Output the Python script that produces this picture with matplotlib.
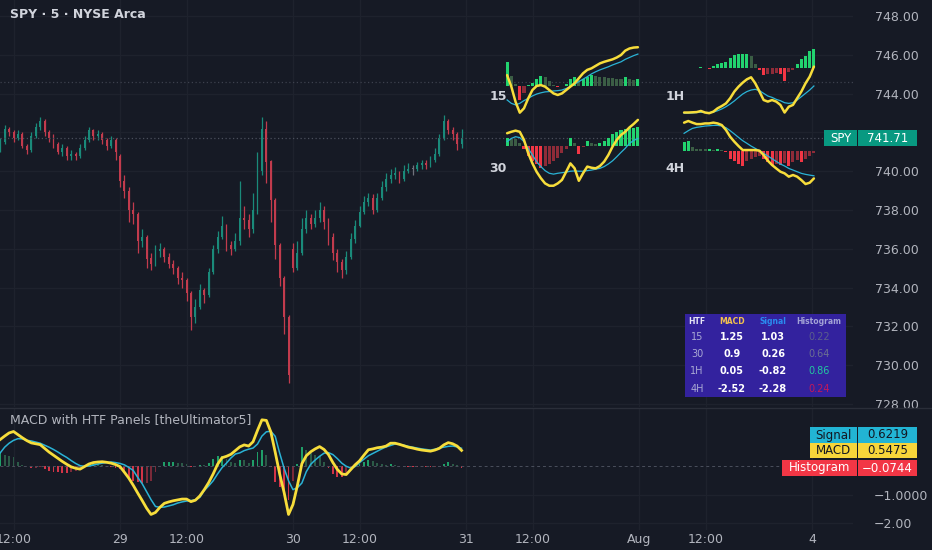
import numpy as np
import matplotlib.pyplot as plt
from matplotlib.patches import Rectangle
from matplotlib.lines import Line2D

plt.rcParams['font.family'] = ['DejaVu Sans']

W, H = 932, 550
BG = '#161a25'
GRID = '#1e222d'
TXT = '#b2b5be'
YELLOW = '#f7dd3b'
CYAN = '#2ab3d6'

# 10-minute candles, Jul 28 12:00 -> Jul 30 close
closes = [741.5, 742.2, 742.0, 741.7, 741.9, 741.3, 741.1, 741.8, 742.3, 742.6,
          742.0, 741.7, 741.4, 741.0, 741.2, 740.8, 740.9, 740.8, 741.2, 741.6,
          742.1, 741.8, 741.9, 741.6, 741.3, 741.6, 741.0,
          739.5, 739.0, 738.0, 737.8, 736.4, 736.6, 735.5, 735.2, 735.9, 736.0,
          735.6, 735.2, 735.0, 734.5, 734.4, 733.7, 732.5, 733.0, 733.9, 733.6,
          734.8, 736.0, 736.6, 737.2, 736.2, 736.0, 736.4, 737.6, 737.5, 737.0,
          738.0, 740.0, 742.2, 740.5, 738.5, 736.2, 734.5, 732.5, 729.5,
          735.0, 735.8, 737.0, 737.6, 737.3, 737.6, 738.0, 737.4, 736.6, 735.8,
          735.3, 734.9, 735.6, 736.5, 737.2, 737.9, 738.4, 738.6, 738.0, 738.6,
          739.2, 739.6, 739.8, 739.9, 739.6, 740.0, 740.1, 740.1, 740.3, 740.4,
          740.3, 740.6, 740.9, 741.7, 742.6, 742.1, 741.9, 741.4, 741.71]
highs = [741.7, 742.4, 742.3, 742.1, 742.1, 742.0, 741.4, 742.0, 742.5, 742.8,
         742.7, 742.1, 741.9, 741.5, 741.4, 741.3, 741.1, 741.0, 741.4, 741.8,
         742.3, 742.2, 742.1, 742.0, 741.7, 741.8, 741.7,
         740.9, 739.8, 739.2, 738.4, 737.9, 737.0, 736.7, 735.8, 736.2, 736.3,
         736.1, 735.8, 735.4, 735.1, 734.8, 734.5, 733.8, 733.4, 734.2, 734.0,
         735.0, 736.2, 736.9, 737.7, 737.3, 736.4, 736.8, 739.5, 738.2, 737.8,
         738.9, 741.0, 742.8, 742.6, 740.6, 738.6, 736.3, 734.6, 732.6,
         736.3, 736.4, 737.6, 738.0, 737.8, 738.0, 738.4, 738.2, 737.6, 736.8,
         736.0, 735.5, 735.9, 736.8, 737.5, 738.2, 738.7, 738.9, 738.8, 738.9,
         739.5, 739.9, 740.1, 740.2, 740.0, 740.3, 740.4, 740.3, 740.5, 740.6,
         740.6, 740.8, 741.2, 741.9, 742.9, 742.7, 742.3, 742.0, 742.2]
lows = [741.0, 741.4, 741.8, 741.5, 741.6, 741.2, 740.9, 741.0, 741.7, 742.1,
        741.8, 741.5, 741.2, 740.9, 740.8, 740.6, 740.6, 740.6, 740.7, 741.1,
        741.5, 741.6, 741.6, 741.4, 741.1, 741.2, 740.6,
        739.2, 738.6, 737.4, 737.3, 735.8, 736.1, 735.0, 734.9, 735.1, 735.6,
        735.3, 735.0, 734.7, 734.2, 734.0, 733.3, 731.8, 732.2, 732.9, 733.2,
        733.5, 734.7, 735.8, 736.5, 735.9, 735.7, 735.9, 736.2, 737.0, 736.6,
        736.8, 737.8, 739.8, 739.4, 737.4, 735.5, 734.1, 731.6, 729.1,
        734.8, 734.9, 735.7, 736.8, 737.0, 737.1, 737.4, 737.0, 736.2, 735.4,
        734.8, 734.5, 734.7, 735.5, 736.3, 737.1, 737.8, 738.2, 737.8, 737.9,
        738.5, 739.0, 739.4, 739.6, 739.4, 739.5, 739.9, 739.8, 740.0, 740.1,
        740.1, 740.2, 740.5, 740.8, 741.6, 741.9, 741.6, 741.1, 741.2]
first_open = 741.2
session_opens = {27: 740.8, 66: 736.0}
last_price = 741.71
ref_level = 744.6

macd = [0.93, 1.05, 1.16, 1.21, 1.10, 0.99, 0.89, 0.81, 0.78, 0.75,
        0.62, 0.49, 0.38, 0.27, 0.16, 0.06, -0.03, -0.08, -0.11, -0.02,
        0.07, 0.12, 0.14, 0.15, 0.13, 0.10, 0.05,
        -0.02, -0.22, -0.43, -0.68, -0.95, -1.21, -1.48, -1.70, -1.63, -1.45,
        -1.31, -1.26, -1.22, -1.19, -1.16, -1.16, -1.25, -1.20, -1.05, -0.83,
        -0.58, -0.28, 0.06, 0.29, 0.34, 0.41, 0.54, 0.67, 0.74, 0.70,
        0.85, 1.25, 1.62, 1.60, 1.20, 0.48, -0.28, -0.93, -1.70,
        -1.35, -0.68, 0.08, 0.36, 0.50, 0.60, 0.68, 0.58, 0.40, 0.12,
        -0.12, -0.28, -0.30, -0.13, 0.04, 0.18, 0.38, 0.57, 0.60, 0.64,
        0.66, 0.70, 0.80, 0.80, 0.76, 0.71, 0.66, 0.63, 0.59, 0.56,
        0.54, 0.52, 0.56, 0.62, 0.74, 0.82, 0.78, 0.70, 0.5475]
signal = [0.46, 0.66, 0.80, 0.90, 0.96, 0.95, 0.90, 0.88, 0.84, 0.80,
          0.73, 0.66, 0.58, 0.49, 0.39, 0.30, 0.19, 0.09, 0.01, -0.01,
          0.0, 0.03, 0.07, 0.10, 0.12, 0.14, 0.12,
          0.09, 0.04, -0.05, -0.16, -0.40, -0.62, -0.90, -1.18, -1.42, -1.45,
          -1.44, -1.40, -1.36, -1.30, -1.26, -1.23, -1.21, -1.19, -1.10, -0.86,
          -0.70, -0.52, -0.28, -0.06, 0.10, 0.28, 0.42, 0.46, 0.54, 0.59,
          0.63, 0.77, 1.05, 1.20, 1.22, 1.04, 0.45, -0.08, -0.52,
          -0.83, -0.76, -0.60, -0.20, 0.06, 0.21, 0.34, 0.45, 0.47, 0.40,
          0.26, 0.10, -0.01, -0.07, -0.02, 0.12, 0.24, 0.36, 0.44, 0.52,
          0.60, 0.67, 0.72, 0.77, 0.76, 0.73, 0.69, 0.66, 0.63, 0.60,
          0.58, 0.56, 0.59, 0.63, 0.66, 0.69, 0.70, 0.67, 0.6219]

# x axis (in candle units)
tick_pos = [3, 27, 42, 66, 81, 105, 120, 144, 159, 183]
tick_lbl = ['12:00', '29', '12:00', '30', '12:00', '31', '12:00', 'Aug', '12:00', '4']
price_ticks = [748, 746, 744, 742, 740, 738, 736, 734, 732, 730, 728]

# higher-timeframe panels
p15_hist = [0.78, 0.32, 0.05, -0.45, -0.24, 0.03, 0.09, 0.22, 0.32, 0.30, 0.16, 0.03,
            -0.04, 0.01, 0.05, 0.22, 0.30, 0.19, 0.24, 0.30, 0.34, 0.32, 0.30, 0.29,
            0.27, 0.26, 0.24, 0.22, 0.28, 0.22, 0.19, 0.22]
p15_macd = [0.35, -0.02, -0.51, -0.86, -0.72, -0.40, -0.13, 0.0, 0.03, -0.02, -0.13, -0.24,
            -0.29, -0.24, -0.13, -0.02, 0.09, 0.25, 0.41, 0.52, 0.57, 0.65, 0.73, 0.78,
            0.82, 0.86, 0.92, 1.0, 1.14, 1.21, 1.24, 1.25]
p15_signal = [-0.45, -0.56, -0.61, -0.56, -0.47, -0.40, -0.32, -0.26, -0.22, -0.19, -0.18, -0.16,
              -0.15, -0.13, -0.08, -0.02, 0.06, 0.14, 0.22, 0.30, 0.39, 0.46, 0.52, 0.57,
              0.62, 0.68, 0.73, 0.78, 0.86, 0.92, 0.98, 1.03]

p1h_hist = [-0.03, -0.01, -0.01, 0.0, 0.04, 0.0, -0.07, 0.07, 0.18, 0.22, 0.27, 0.45,
            0.57, 0.63, 0.63, 0.63, 0.52, 0.15, -0.12, -0.33, -0.30, -0.27, -0.22, -0.30,
            -0.60, -0.18, -0.12, 0.18, 0.37, 0.52, 0.75, 0.86]
p1h_macd = [-2.01, -2.01, -2.0, -1.99, -1.94, -2.01, -2.04, -1.97, -1.82, -1.72, -1.60, -1.37,
            -1.07, -0.85, -0.67, -0.52, -0.43, -0.70, -1.07, -1.45, -1.52, -1.45, -1.52, -1.67,
            -2.01, -1.75, -1.67, -1.37, -1.07, -0.70, -0.40, 0.05]
p1h_signal = [-2.04, -2.04, -2.03, -2.01, -2.0, -2.01, -2.01, -1.99, -1.93, -1.85, -1.75, -1.63,
              -1.49, -1.33, -1.18, -1.07, -1.0, -0.97, -1.03, -1.15, -1.27, -1.33, -1.42, -1.48,
              -1.57, -1.60, -1.57, -1.45, -1.30, -1.15, -1.0, -0.82]

p30_hist = [0.29, 0.25, 0.23, 0.11, -0.11, -0.34, -0.52, -0.63, -0.75, -0.69, -0.63, -0.52,
            -0.40, -0.23, -0.09, 0.29, 0.09, -0.29, -0.03, 0.17, 0.11, 0.06, 0.09, 0.17,
            0.29, 0.40, 0.48, 0.55, 0.60, 0.63, 0.63, 0.64]
p30_macd = [0.44, 0.49, 0.53, 0.49, 0.21, -0.25, -0.60, -0.89, -1.11, -1.29, -1.37, -1.37,
            -1.29, -1.17, -0.89, -0.60, -0.77, -1.20, -0.94, -0.71, -0.75, -0.77, -0.69, -0.54,
            -0.31, -0.02, 0.21, 0.38, 0.49, 0.64, 0.76, 0.90]
p30_signal = [0.15, 0.26, 0.32, 0.29, 0.15, -0.08, -0.31, -0.54, -0.71, -0.85, -0.94, -0.97,
              -0.94, -0.92, -0.90, -0.87, -0.86, -0.87, -0.87, -0.85, -0.83, -0.80, -0.77, -0.71,
              -0.62, -0.51, -0.37, -0.22, -0.08, 0.09, 0.19, 0.26]

p4h_hist = [0.76, 0.85, 0.36, 0.18, 0.15, 0.12, 0.12, 0.09, 0.15, 0.06, -0.09, -0.76,
            -0.91, -1.21, -1.36, -0.91, -0.76, -0.61, -0.45, -0.76, -1.06, -1.36, -1.21, -1.27,
            -1.15, -1.36, -1.06, -0.85, -1.06, -0.76, -0.45, -0.24]
p4h_macd = [2.55, 2.70, 2.55, 2.42, 2.42, 2.48, 2.48, 2.55, 2.48, 2.33, 1.88, 1.27,
            0.82, 0.42, 0.06, 0.06, 0.06, 0.06, 0.0, -0.39, -0.91, -1.30, -1.61, -1.91,
            -2.06, -2.36, -2.21, -2.36, -2.67, -3.03, -2.91, -2.52]
p4h_signal = [1.58, 1.82, 2.03, 2.12, 2.18, 2.24, 2.27, 2.30, 2.30, 2.24, 2.09, 1.82,
              1.52, 1.21, 0.91, 0.67, 0.42, 0.21, 0.0, -0.24, -0.48, -0.73, -0.97, -1.21,
              -1.39, -1.61, -1.76, -1.91, -2.06, -2.15, -2.22, -2.28]

# summary table
tbl_htf = ['15', '30', '1H', '4H']
tbl_macd = [1.25, 0.9, 0.05, -2.52]
tbl_signal = [1.03, 0.26, -0.82, -2.28]
tbl_hist = [0.22, 0.64, 0.86, 0.24]
tbl_hist_colors = ['#5b5f8c', '#6c7092', '#22c7a0', '#c2185b']


def fx(x):
    return x / W


def fy(y):
    return 1 - y / H


def hist_colors(h, bright_up, dim_up, bright_dn, dim_dn):
    h = np.asarray(h)
    prev = np.r_[h[0], h[:-1]]
    out = []
    for v, p in zip(h, prev):
        if v >= 0:
            out.append(bright_up if v >= p else dim_up)
        else:
            out.append(bright_dn if v <= p else dim_dn)
    return out


fig = plt.figure(figsize=(W / 100, H / 100), dpi=100, facecolor=BG)

# ---- price pane
ax = fig.add_axes([0, fy(407), fx(853), 407 / H])
ax.set_facecolor(BG)
c = np.array(closes)
o = np.r_[first_open, c[:-1]]
for k, v in session_opens.items():
    o[k] = v
idx = np.arange(len(c))
cols = np.where(c > o + 0.05, '#1a8a7a', np.where(c < o - 0.05, '#c23b4d', '#70737d'))
ax.vlines(idx, lows, highs, colors=cols, lw=0.9)
body = np.maximum(np.abs(c - o), 0.04)
ax.bar(idx, body, bottom=np.minimum(o, c), width=0.42, color=cols, lw=0)
ax.axhline(last_price, color='#4a4f5c', ls=(0, (1, 2)), lw=0.9)
ax.axhline(ref_level, color='#3d414d', ls=(0, (1, 2)), lw=0.9)
ax.set_xlim(-0.05, 192.25)
ax.set_ylim(748 - 391 / 19.4, 748 + 16 / 19.4)
ax.set_xticks(tick_pos)
ax.set_yticks(price_ticks)
ax.set_yticklabels(['' if p == 742 else f'{p:.2f}' for p in price_ticks])
ax.yaxis.tick_right()
ax.tick_params(axis='y', length=0, pad=16, labelsize=9, labelcolor=TXT)
ax.tick_params(axis='x', length=0, labelbottom=False)
ax.grid(color=GRID, lw=0.9)
ax.set_axisbelow(True)
for s in ax.spines.values():
    s.set_visible(False)

# ---- MACD pane
axm = fig.add_axes([0, fy(530), fx(853), 122 / H])
axm.set_facecolor(BG)
hist = np.array(macd) - np.array(signal)
axm.bar(idx, hist, width=0.42, lw=0,
        color=hist_colors(hist, '#1f9e68', '#2b5a47', '#d23447', '#7a2a39'))
axm.axhline(0, color='#4a4f5c', ls=(0, (3, 3)), lw=0.7)
axm.plot(idx, signal, color=CYAN, lw=1.1)
axm.plot(idx, macd, color=YELLOW, lw=2.0)
axm.set_xlim(-0.05, 192.25)
axm.set_ylim(-(530 - 466) / 28.5, (466 - 408) / 28.5)
axm.set_xticks(tick_pos)
axm.set_xticklabels(tick_lbl)
axm.set_yticks([-1, -2])
axm.set_yticklabels(['\u22121.0000', '\u22122.00'])
axm.yaxis.tick_right()
axm.tick_params(axis='y', length=0, pad=15, labelsize=9, labelcolor=TXT)
axm.tick_params(axis='x', length=0, pad=2, labelsize=9, labelcolor=TXT)
axm.grid(color=GRID, lw=0.9)
axm.set_axisbelow(True)
for s in axm.spines.values():
    s.set_visible(False)

fig.add_artist(Line2D([0, 1], [fy(407.5), fy(407.5)], color='#2a2e39', lw=1))

# ---- HTF panels


def draw_panel(left, right, top, bottom, zero, ppu, h, m, s, label):
    a = fig.add_axes([fx(left), fy(bottom), fx(right - left), (bottom - top) / H])
    a.set_facecolor('none')
    a.axis('off')
    x = np.arange(len(h))
    a.bar(x, h, width=0.72, lw=0,
          color=hist_colors(h, '#22d36f', '#3b5e45', '#f23645', '#8e2b38'))
    a.plot(x, s, color=CYAN, lw=0.9)
    a.plot(x, m, color=YELLOW, lw=1.8, solid_capstyle='round')
    a.set_xlim(-0.5, len(h) - 0.5)
    a.set_ylim(-(bottom - zero) / ppu, (zero - top) / ppu)
    fig.text(fx(left - 7), fy(label[1]), label[0], ha='center', va='center',
             color='#d1d4dc', fontsize=9, fontweight='bold')


draw_panel(505, 640, 40, 125, 86, 31, p15_hist, p15_macd, p15_signal, ('15', 97))
draw_panel(505, 640, 112, 200, 146, 29, p30_hist, p30_macd, p30_signal, ('30', 169))
draw_panel(682, 816, 40, 125, 67.7, 22.3, p1h_hist, p1h_macd, p1h_signal, ('1H', 97))
draw_panel(682, 816, 112, 200, 150.7, 11, p4h_hist, p4h_macd, p4h_signal, ('4H', 169))

# ---- table
fig.add_artist(Rectangle((fx(685), fy(397)), fx(161), 83 / H, color='#33229e', lw=0))
col_x = [697, 732, 773, 819]
fig.text(fx(col_x[0]), fy(322), 'HTF', color='#e6e6f5', fontsize=5.5, fontweight='bold', ha='center', va='center')
fig.text(fx(col_x[1]), fy(322), 'MACD', color='#f2c14e', fontsize=5.5, fontweight='bold', ha='center', va='center')
fig.text(fx(col_x[2]), fy(322), 'Signal', color='#2a8cf0', fontsize=5.5, fontweight='bold', ha='center', va='center')
fig.text(fx(col_x[3]), fy(322), 'Histogram', color='#a3a3d6', fontsize=5.5, fontweight='bold', ha='center', va='center')
for i, yy in enumerate([337, 354, 371, 389]):
    fig.text(fx(col_x[0]), fy(yy), tbl_htf[i], color='#a9a9d4', fontsize=7, ha='center', va='center')
    fig.text(fx(col_x[1]), fy(yy), f'{tbl_macd[i]:g}', color='white', fontsize=7, fontweight='bold', ha='center', va='center')
    fig.text(fx(col_x[2]), fy(yy), f'{tbl_signal[i]:g}', color='white', fontsize=7, fontweight='bold', ha='center', va='center')
    fig.text(fx(col_x[3]), fy(yy), f'{tbl_hist[i]:g}', color=tbl_hist_colors[i], fontsize=7, ha='center', va='center')

# ---- labels on the scale


def scale_tag(x0, y0, y1, name, value, bg, fg):
    fig.add_artist(Rectangle((fx(x0), fy(y1)), fx(857 - x0), (y1 - y0) / H, color=bg, lw=0))
    fig.add_artist(Rectangle((fx(858), fy(y1)), fx(59), (y1 - y0) / H, color=bg, lw=0))
    ym = (y0 + y1) / 2
    fig.text(fx((x0 + 857) / 2), fy(ym), name, color=fg, fontsize=8.5, ha='center', va='center')
    fig.text(fx(887.5), fy(ym), value, color=fg, fontsize=8.5, ha='center', va='center')


scale_tag(824, 130, 146, 'SPY', f'{last_price:.2f}', '#089981', 'white')
scale_tag(810, 427, 443, 'Signal', f'{signal[-1]:.4f}', '#22b4d4', '#131722')
scale_tag(810, 443, 458, 'MACD', f'{macd[-1]:.4f}', '#f7d53a', '#131722')
scale_tag(782, 460, 476, 'Histogram', f'\u2212{abs(macd[-1] - signal[-1]):.4f}', '#f23645', 'white')

fig.text(fx(10), fy(14), 'SPY \u00b7 5 \u00b7 NYSE Arca', color='#d1d4dc', fontsize=9,
         fontweight='bold', ha='left', va='center')
fig.text(fx(10), fy(420), 'MACD with HTF Panels [theUltimator5]', color=TXT, fontsize=9,
         ha='left', va='center')

fig.savefig('out.png', dpi=100, facecolor=BG)
